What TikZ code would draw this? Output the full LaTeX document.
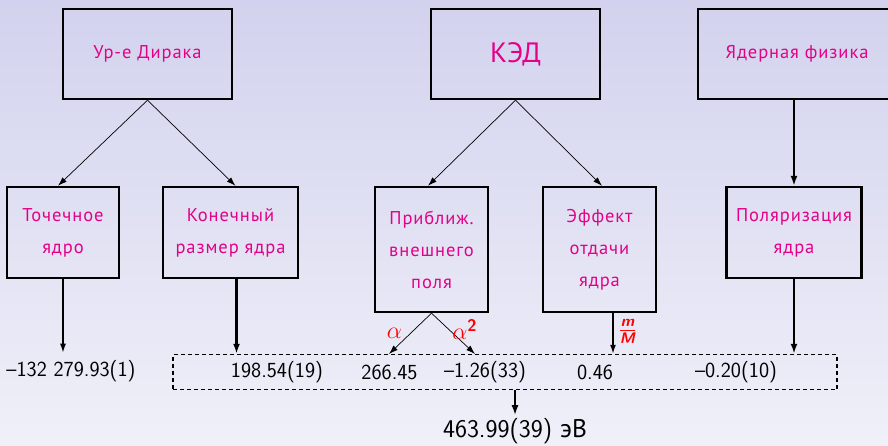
\documentclass[tikz,border=0pt]{standalone}
\usepackage{fix-cm}
\usepackage{amsmath}
\usepackage{fontspec}
\newfontfamily\cyr[LetterSpace=5]{PT Sans}
\newfontfamily\cyrplain{PT Sans}
\usetikzlibrary{arrows.meta,positioning}
\definecolor{boxtext}{RGB}{228,0,136}
\definecolor{bgtop}{RGB}{210,210,238}
\definecolor{bgbottom}{RGB}{240,240,249}

\begin{document}
\begin{tikzpicture}[
  x=1pt,y=-1pt,
  box/.style={draw,line width=2.4pt,text=boxtext,align=center,inner sep=0pt,
    font=\cyr\fontsize{18.5}{32}\selectfont},
  thinflow/.style={line width=.7pt,-{Latex[length=9pt,width=6pt]}},
  midflow/.style={line width=1.5pt,-{Latex[length=9pt,width=6pt]}},
  thickflow/.style={line width=2.4pt,-{Latex[length=10pt,width=7pt]}},
  val/.style={font=\sffamily\fontsize{21.5}{24}\selectfont},
  order/.style={text=red,inner sep=0pt,font=\fontsize{24}{26}\selectfont}
]
  \shade[top color=bgtop,bottom color=bgbottom] (0,0) rectangle (888,445);
  \useasboundingbox (0,0) rectangle (888,445);

  % top row
  \node[box,minimum width=169pt,minimum height=90pt] (dirac) at (147.5,54) {Ур-е Дирака};
  \node[box,minimum width=169pt,minimum height=90pt,font=\cyrplain\fontsize{28}{32}\selectfont] (qed) at (515.5,54) {КЭД};
  \node[box,minimum width=198pt,minimum height=90pt] (nucl) at (797,54) {Ядерная физика};

  % middle row
  \node[box,minimum width=112pt,minimum height=91pt] (point) at (63,232.5) {Точечное\\ядро};
  \node[box,minimum width=135pt,minimum height=91pt] (finite) at (230.5,232.5) {Конечный\\размер ядра};
  \node[box,minimum width=113pt,minimum height=125pt] (approx) at (431.5,249.5) {Приближ.\\внешнего\\поля};
  \node[box,minimum width=113pt,minimum height=125pt] (recoil) at (599.5,249.5) {Эффект\\отдачи\\ядра};
  \node[box,minimum width=135pt,minimum height=91pt] (polar) at (794,232.5) {Поляризация\\ядра};

  % values
  \node[val] (pointval) at (71,371) {\textendash132 279.93(1)};
  \node[draw,dashed,line width=1.5pt,dash pattern=on 4pt off 3pt,minimum width=664pt,minimum height=35pt] (sum) at (505,372) {};
  \node[val] (finval) at (277,372) {198.54(19)};
  \node[val] (fieldval) at (389.5,372) {266.45};
  \node[val] (radval) at (485,372) {\textendash1.26(33)};
  \node[val] (recval) at (595,372) {0.46};
  \node[val] (polval) at (736,372) {\textendash0.20(10)};
  \node[font=\sffamily\fontsize{25.5}{28}\selectfont] (total) at (515,431.5) {463.99(39) {\cyrplain эВ}};

  \coordinate (alpha end) at (389,354);
  \coordinate (alpha2 end) at (475,354);

  \draw[thinflow] (dirac.south) -- ([xshift=-5pt]point.north);
  \draw[thinflow] (dirac.south) -- ([xshift=5pt]finite.north);
  \draw[thinflow] (qed.south) -- ([xshift=-3.5pt]approx.north);
  \draw[thinflow] (qed.south) -- ([xshift=2.5pt]recoil.north);
  \draw[thickflow] ([xshift=-3pt]nucl.south) -- (polar.north);

  \draw[midflow] (point.south) -- ([yshift=4pt]point.south |- pointval.north);
  \draw[thickflow] ([xshift=6pt]finite.south) -- ([xshift=6pt]finite.south |- sum.north);
  \draw[thinflow] (approx.south) -- node[order,pos=.5,left=8pt] {$\alpha$} (alpha end);
  \draw[thinflow] (approx.south) -- node[order,pos=.4,right=3pt] {$\alpha^{\textsf{\bfseries 2}}$} (alpha2 end);
  \draw[midflow] ([xshift=13.5pt]recoil.south) -- node[order,right=5pt,pos=.45,font=\fontsize{22}{24}\selectfont\boldmath] {$\frac{\textsf{\bfseries\itshape m}}{\textsf{\bfseries\itshape M}}$} ([xshift=13.5pt]recoil.south |- sum.north);
  \draw[thickflow] (polar.south) -- (polar.south |- sum.north);
  \draw[thickflow] (total.north |- sum.south) -- (total.north);
\end{tikzpicture}
\end{document}
